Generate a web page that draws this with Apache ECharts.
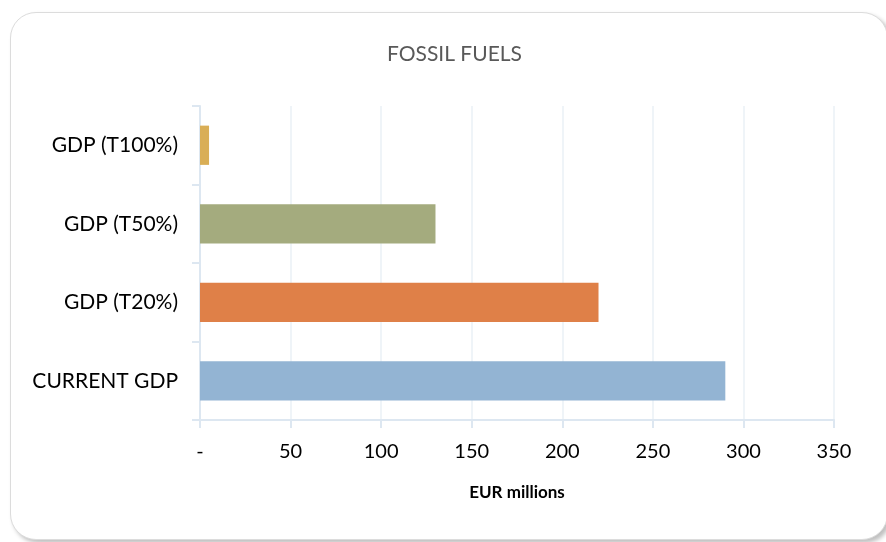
<!DOCTYPE html>
<html>
<head>
<meta charset="utf-8">
<script src="https://cdn.jsdelivr.net/npm/echarts@6/dist/echarts.min.js"></script>
<style>
  html, body { margin: 0; padding: 0; background: #fff; }
  #wrap { position: relative; width: 886px; height: 542px; overflow: hidden; }
  #frame {
    position: absolute; left: 10px; top: 12px; width: 876px; height: 526px;
    border: 1.5px solid #dcdcdc; border-radius: 26px;
    box-shadow: 3px 3px 4px rgba(0,0,0,0.25);
    background: #fff;
  }
  #chart { position: absolute; left: 0; top: 0; width: 886px; height: 542px; }
</style>
</head>
<body>
<div id="wrap">
  <div id="frame"></div>
  <div id="chart"></div>
</div>
<script>
// categories bottom -> top
const categories = ['CURRENT GDP', 'GDP (T20%)', 'GDP (T50%)', 'GDP (T100%)'];
const values = [290, 220, 130, 5];
const barColors = ['#93b4d3', '#df8048', '#a4ab7e', '#d9ae56'];

const chart = echarts.init(document.getElementById('chart'));
const font = 'Lato, "Open Sans", sans-serif';

chart.setOption({
  backgroundColor: 'transparent',
  animation: false,
  title: {
    text: 'FOSSIL FUELS',
    left: 382,
    top: 39,
    textStyle: { fontFamily: font, fontSize: 21, fontWeight: 'normal', color: '#595959' }
  },
  grid: { left: 200, right: 52, top: 106, bottom: 122, containLabel: false },
  xAxis: {
    type: 'value',
    min: 0,
    max: 350,
    interval: 50,
    name: 'EUR millions',
    nameLocation: 'middle',
    nameGap: 64,
    nameTextStyle: { fontFamily: font, fontSize: 17, fontWeight: 'bold', color: '#000' },
    axisLine: { show: true, lineStyle: { color: '#dde7f1', width: 2 } },
    axisTick: { show: true, length: 8, lineStyle: { color: '#dde7f1', width: 2 } },
    splitLine: { show: true, lineStyle: { color: '#eaf0f6', width: 1.5 } },
    axisLabel: {
      fontFamily: font, fontSize: 20, color: '#000', margin: 22,
      formatter: v => v === 0 ? '-' : String(v)
    }
  },
  yAxis: {
    type: 'category',
    data: categories,
    axisLine: { show: true, lineStyle: { color: '#dde7f1', width: 2 } },
    axisTick: { show: true, length: 8, lineStyle: { color: '#dde7f1', width: 2 } },
    axisLabel: { fontFamily: font, fontSize: 21, color: '#000', margin: 22 }
  },
  series: [{
    type: 'bar',
    data: values.map((v, i) => ({ value: v, itemStyle: { color: barColors[i] } })),
    barWidth: '50%'
  }]
});
</script>
</body>
</html>
